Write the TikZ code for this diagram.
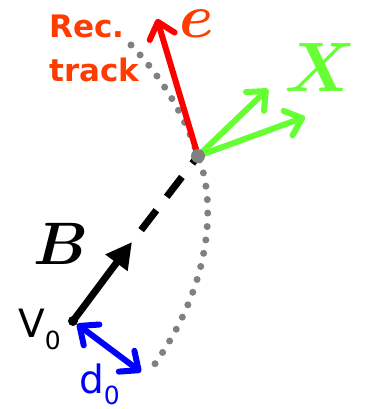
\RequirePackage{fix-cm}
\documentclass[tikz,border=0pt]{standalone}
\usepackage{amsmath}
\usepackage{fontspec}
\setsansfont{DejaVu Sans}
\usepackage{tikz}
\usetikzlibrary{arrows.meta,positioning}
\definecolor{recred}{RGB}{255,60,0}
\definecolor{xgreen}{RGB}{102,255,51}
\definecolor{dblue}{RGB}{0,0,255}
\tikzset{
  vec/.style={line width=6pt, line cap=round, -{Straight Barb[length=15pt,width=26pt,round]}},
  track/.style={gray, line width=7pt, line cap=round, dash pattern=on 0pt off 13.5pt},
}

\begin{document}
\begin{tikzpicture}[x=1pt,y=-1pt]
\useasboundingbox (0,0) rectangle (364,409);
% points
\node (v0) [circle, fill=black, inner sep=0, minimum size=10pt] at (73,321) {};
\coordinate (sv) at (198,156);
\coordinate (btip) at (132,242);
\coordinate (etip) at (157,19);
\coordinate (xtipa) at (268,89);
\coordinate (xtipb) at (305,117);
\coordinate (dtip) at (141,372);
\coordinate (trka) at (131,45);
\coordinate (trkb) at (149,372);
% track
\draw[track] (trka) .. controls (160,75) and (185,115) .. (sv) .. controls (216,200) and (214,285) .. (trkb);
% flight direction
\draw[line width=7pt, -{Triangle[length=26pt,width=26pt]}] (v0.center) -- (btip);
\draw[line width=7pt, dash pattern=on 25pt off 17pt, dash phase=27pt] (btip) -- (sv);
% decay products
\draw[vec, red] (sv) -- (etip);
\draw[vec, xgreen] (sv) -- (xtipa);
\draw[vec, xgreen] (sv) -- (xtipb);
\fill[gray] (sv) circle (7);
% impact parameter
\draw[vec, dblue, {Straight Barb[length=15pt,width=26pt,round]}-{Straight Barb[length=15pt,width=26pt,round]}] (dtip) -- (v0);
% labels
\node (elab) [text=recred, inner sep=0, font=\fontsize{62}{62}\selectfont] at (197,24) {$\boldsymbol{e}$};
\node (xlab) [text=xgreen, inner sep=0, font=\fontsize{70}{70}\selectfont] at (320,67) {$\boldsymbol{X}$};
\node (blab) [inner sep=0, font=\fontsize{60}{60}\selectfont] at (61,244) {$\boldsymbol{B}$};
\node (rlab) [text=recred, font=\sffamily\bfseries\fontsize{31}{44}\selectfont, align=left, anchor=north west, inner sep=0] at (49,15) {Rec.\\track};
\node (vlab) [font=\sffamily\fontsize{39}{39}\selectfont, anchor=base west, inner sep=0] at (18,337) {V\raisebox{-12pt}{\fontsize{25}{25}\selectfont 0}};
\node (dlab) [text=dblue, font=\sffamily\fontsize{39}{39}\selectfont, anchor=base west, inner sep=0] at (79,393) {d\raisebox{-11pt}{\fontsize{25}{25}\selectfont 0}};
\end{tikzpicture}
\end{document}
